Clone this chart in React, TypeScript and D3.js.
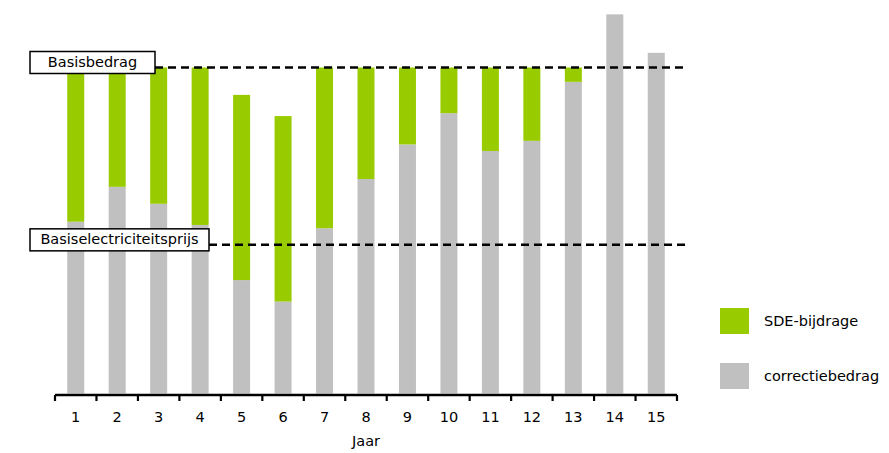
import React from "react";
import * as d3 from "d3";

const years = ["1","2","3","4","5","6","7","8","9","10","11","12","13","14","15"];
const correctiebedrag = [52.7, 63.4, 58.2, 51.7, 34.8, 28.2, 50.7, 65.8, 76.4, 86, 74.4, 77.5, 95.6, 116.3, 104.5];
const totalTop = [100, 100, 100, 100, 91.6, 85.1, 100, 100, 100, 100, 100, 100, 100, 116.3, 104.5];
const basisbedrag = 100;
const basisElectriciteitsprijs = 45.6;
const legendItems = ["SDE-bijdrage", "correctiebedrag"];

const GREEN = "#99cc00";
const GRAY = "#c0c0c0";
const FONT = "DejaVu Sans, Verdana, sans-serif";
const FS = 14.5;

export default function App() {
  const W = 889, H = 453;
  const x = d3.scaleBand<string>().domain(years).range([55, 677]).padding(0);
  const y = d3.scaleLinear().domain([0, 100]).range([393.5, 67.5]);
  const bw = 17;
  const sde = totalTop.map((t, i) => Math.max(0, t - correctiebedrag[i]));
  const stackData = years.map((yr, i) => ({ yr, corr: correctiebedrag[i], sde: sde[i] }));
  const series = d3.stack<any>().keys(["corr", "sde"])(stackData);
  const colors = [GRAY, GREEN];
  const tickXs = [...years.map((yr) => x(yr)!), x(years[years.length - 1])! + x.bandwidth()];

  const refLines = [
    { label: "Basisbedrag", value: basisbedrag, x0: 30, x1: 155 },
    { label: "Basiselectriciteitsprijs", value: basisElectriciteitsprijs, x0: 30, x1: 209 },
  ];

  return (
    <svg width={W} height={H} style={{ position: "absolute", left: 0, top: 0 }}>
      <rect x={0} y={0} width={W} height={H} fill="#fff" />
      {series.map((s, si) => (
        <g key={si} fill={colors[si]}>
          {s.map((d, i) => (
            d[1] - d[0] > 0 ? (
              <rect key={i} x={x(years[i])! + x.bandwidth() / 2 - bw / 2} y={y(d[1])} width={bw} height={y(d[0]) - y(d[1])} />
            ) : null
          ))}
        </g>
      ))}
      {refLines.map((r, i) => (
        <g key={i}>
          <line x1={r.x1} x2={685} y1={y(r.value)} y2={y(r.value)} stroke="#000" strokeWidth={2.5} strokeDasharray="8,5" />
          <rect x={r.x0} y={y(r.value) - 16} width={r.x1 - r.x0} height={22} fill="#fff" stroke="#000" strokeWidth={1.5} />
          <text x={(r.x0 + r.x1) / 2} y={y(r.value) - 5} textAnchor="middle" dominantBaseline="middle" fontFamily={FONT} fontSize={FS} fill="#000">{r.label}</text>
        </g>
      ))}
      <line x1={55} x2={677} y1={395} y2={395} stroke="#000" strokeWidth={2.7} />
      {tickXs.map((tx, i) => (
        <line key={i} x1={tx} x2={tx} y1={395} y2={401} stroke="#000" strokeWidth={2.2} />
      ))}
      {years.map((yr) => (
        <text key={yr} x={x(yr)! + x.bandwidth() / 2} y={417.5} textAnchor="middle" dominantBaseline="middle" fontFamily={FONT} fontSize={FS} fill="#000">{yr}</text>
      ))}
      <text x={366} y={442} textAnchor="middle" dominantBaseline="middle" fontFamily={FONT} fontSize={FS} fill="#000">Jaar</text>
      {legendItems.map((l, i) => (
        <g key={l}>
          <rect x={720} y={308 + i * 55} width={29} height={26} fill={i === 0 ? GREEN : GRAY} />
          <text x={764} y={322 + i * 55} dominantBaseline="middle" fontFamily={FONT} fontSize={FS} fill="#000">{l}</text>
        </g>
      ))}
    </svg>
  );
}
